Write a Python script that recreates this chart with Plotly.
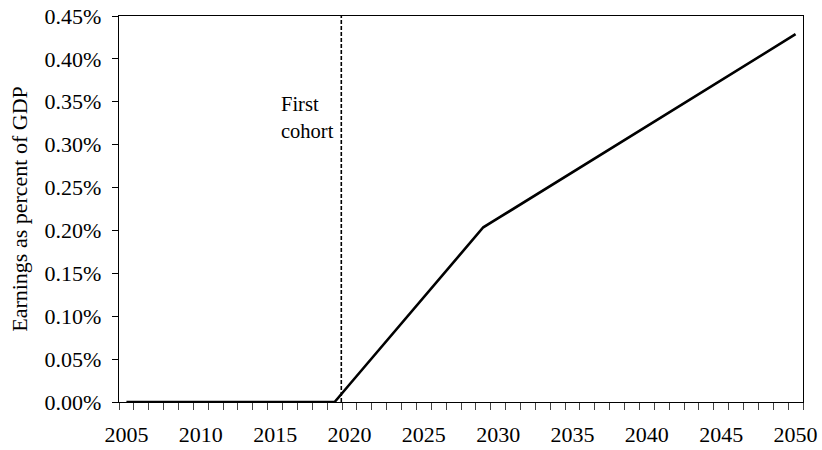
import plotly.graph_objects as go

# Earnings as percent of GDP, by year (values in percent)
years = list(range(2005, 2051))
earnings_pct = (
    [0.0] * 15  # 2005-2019
    + [0.0204, 0.0407, 0.0611, 0.0815, 0.1019, 0.1222, 0.1426, 0.1630, 0.1833,  # 2020-2028
       0.2037, 0.2143, 0.2250, 0.2357, 0.2464, 0.2570,  # 2029-2034
       0.2678, 0.2786, 0.2894, 0.3002, 0.3110, 0.3218, 0.3326, 0.3433,  # 2035-2042
       0.3540, 0.3647, 0.3754, 0.3861, 0.3968, 0.4075, 0.4182, 0.4288]  # 2043-2050
)

# first cohort marker
cohort_x = [2019.45, 2019.45]
cohort_y = [0.0, 0.45]
cohort_label = "First<br>cohort"

year_ticks = list(range(2005, 2051, 5))
y_ticks = [0.0, 0.05, 0.10, 0.15, 0.20, 0.25, 0.30, 0.35, 0.40, 0.45]
y_tick_text = [f"{v:.2f}%" for v in y_ticks]

FONT = "Liberation Serif, Times New Roman, serif"

fig = go.Figure()

fig.add_trace(go.Scatter(
    x=cohort_x, y=cohort_y,
    mode="lines",
    line=dict(color="black", width=1.6, dash="4px,2px"),
    showlegend=False, hoverinfo="skip",
))

fig.add_trace(go.Scatter(
    x=years, y=earnings_pct,
    mode="lines",
    line=dict(color="black", width=2.6),
    showlegend=False,
))

fig.add_annotation(
    x=2015.25, y=0.332, xref="x", yref="y",
    text=cohort_label, showarrow=False,
    xanchor="left", yanchor="middle", align="left",
    font=dict(family=FONT, size=20.5, color="black"),
)

fig.update_layout(
    width=822, height=450,
    margin=dict(l=119, r=19, t=16, b=48, autoexpand=False),
    paper_bgcolor="white", plot_bgcolor="white",
    font=dict(family=FONT, size=22, color="black"),
    showlegend=False,
)

fig.update_xaxes(
    range=[2004.5, 2050.5], automargin=False,
    tickvals=year_ticks, ticktext=[str(y) for y in year_ticks],
    ticks="", showgrid=False, zeroline=False,
    showline=True, linecolor="black", linewidth=1.4, mirror=True,
    minor=dict(tickmode="linear", tick0=2004.5, dtick=1,
               ticks="outside", ticklen=7, tickcolor="#444", showgrid=False),
    ticklabelstandoff=12,
)

fig.update_yaxes(
    range=[0, 0.45], automargin=False,
    tickvals=y_ticks, ticktext=y_tick_text,
    ticks="outside", ticklen=6, tickcolor="black",
    showgrid=False, zeroline=False,
    showline=True, linecolor="black", linewidth=1.4, mirror=True,
    ticklabelstandoff=6,
    title=dict(text="Earnings as percent of GDP", standoff=10,
               font=dict(family=FONT, size=22)),
)

# drop the default page margin so the chart sits at the window's corner
fig.write_html("out.html", config={"displayModeBar": False},
               post_script="document.body.style.margin='0';")
